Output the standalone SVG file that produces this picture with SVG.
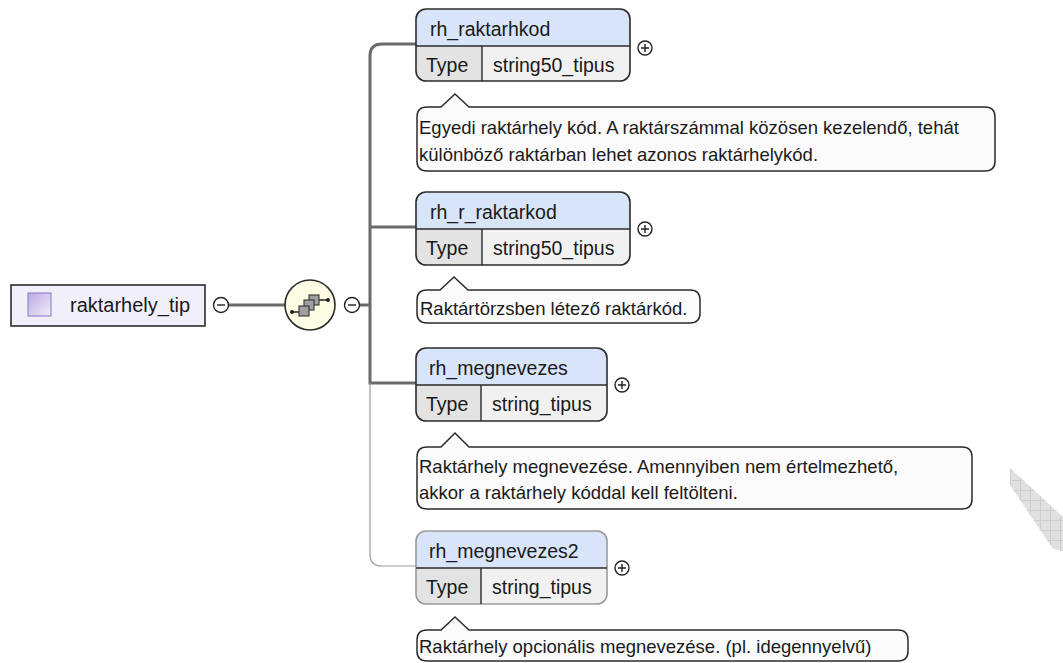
<svg xmlns="http://www.w3.org/2000/svg" width="1063" height="663" viewBox="0 0 1063 663">
<defs>
<style>
text{font-family:"Liberation Sans",Arial,sans-serif;fill:#1a1a1a}
.nm{font-size:19.5px}
.rt{font-size:20px}
.ty{font-size:19.5px}
.an{font-size:18.5px}
.box{fill:none;stroke:#2b2b2b;stroke-width:1.6}
.box.opt{stroke:#9a9a9a}
.hdr{fill:#d8e4f7}
.row{fill:#f1f1f1}
.tcell{fill:#e3e3e3}
.div{stroke:#2b2b2b;stroke-width:1.4;fill:none}
.ann{fill:#fbfbfb;stroke:#2b2b2b;stroke-width:1.5}
.pm{fill:#fff;stroke:#222;stroke-width:1.4}
.pmg{stroke:#222;stroke-width:1.4;fill:none}
.thick{fill:none;stroke:#6a6a6a;stroke-width:3}
.thin{fill:none;stroke:#9a9a9a;stroke-width:1.2}
</style>
<linearGradient id="sq" x1="0" y1="0" x2="1" y2="1">
<stop offset="0" stop-color="#b9a9e3"/>
<stop offset="1" stop-color="#f2effa"/>
</linearGradient>
<pattern id="wm" width="10" height="10" patternUnits="userSpaceOnUse">
<rect width="10" height="10" fill="#e0e0e0"/>
<path d="M0,0.5H10M0.5,0V10" stroke="#cdcdcd" stroke-width="1"/>
</pattern>
</defs>
<rect width="1063" height="663" fill="#ffffff"/>

<g id="connectors">
<path class="thick" d="M229,305 H285"/>
<path class="thick" d="M359,305 H370"/>
<path class="thick" d="M416,44 H382 Q370,44 370,56 V383 H416"/>
<path class="thick" d="M370,227 H416"/>
<path class="thin" d="M370,383 V554 Q370,566 382,566 H416"/>
</g>

<g id="root">
<rect x="11" y="285" width="194" height="41" fill="#f1eff9" stroke="#2b2b2b" stroke-width="1.6"/>
<rect x="28" y="293" width="23" height="23" fill="url(#sq)" stroke="#9886cc" stroke-width="1.2"/>
<text class="rt" x="70" y="312">raktarhely_tip</text>
<circle class="pm" cx="221" cy="305" r="7.5"/>
<path class="pmg" d="M217,305 H225"/>
</g>

<g id="sequence">
<circle cx="310" cy="305" r="25" fill="#fdfde3" stroke="#2b2b2b" stroke-width="1.6"/>
<path d="M292,312 H299 M319,300 H328" stroke="#222" stroke-width="1.4"/>
<circle cx="292" cy="312" r="2" fill="#222"/>
<circle cx="328" cy="300" r="2" fill="#222"/>
<rect x="309" y="295" width="10" height="10" fill="#a0a0a0" stroke="#333" stroke-width="1.1"/>
<rect x="304" y="300" width="10" height="10" fill="#a0a0a0" stroke="#333" stroke-width="1.1"/>
<rect x="299" y="306" width="10" height="10" fill="#a0a0a0" stroke="#333" stroke-width="1.1"/>
<circle class="pm" cx="352" cy="305" r="7.5"/>
<path class="pmg" d="M348,305 H356"/>
</g>

<g id="node-rh_raktarhkod">
<rect class="row" x="416" y="9" width="214" height="72" rx="10"/>
<path class="hdr" d="M416,46 V19 Q416,9 426,9 H620 Q630,9 630,19 V46 Z"/>
<path class="tcell" d="M416,46 H482 V81 H426 Q416,81 416,71 Z"/>
<rect class="box" x="416" y="9" width="214" height="72" rx="10"/>
<path class="div" d="M416,46 H630 M482,46 V81"/>
<text class="nm" x="430" y="36">rh_raktarhkod</text>
<text class="ty" x="426" y="72">Type</text>
<text class="ty" x="493" y="72">string50_tipus</text>
<circle class="pm" cx="645" cy="48" r="7"/>
<path class="pmg" d="M641,48 H649 M645,44 V52"/>
</g>

<g id="ann-rh_raktarhkod">
<path class="ann" d="M427,107 H441 L455,94 L469,107 H985 Q995,107 995,117 V161 Q995,171 985,171 H427 Q417,171 417,161 V117 Q417,107 427,107 Z"/>
<text class="an" x="419" y="134">Egyedi raktárhely kód. A raktárszámmal közösen kezelendő, tehát</text>
<text class="an" x="419" y="161">különböző raktárban lehet azonos raktárhelykód.</text>
</g>

<g id="node-rh_r_raktarkod">
<rect class="row" x="416" y="192" width="214" height="73" rx="10"/>
<path class="hdr" d="M416,229 V202 Q416,192 426,192 H620 Q630,192 630,202 V229 Z"/>
<path class="tcell" d="M416,229 H482 V265 H426 Q416,265 416,255 Z"/>
<rect class="box" x="416" y="192" width="214" height="73" rx="10"/>
<path class="div" d="M416,229 H630 M482,229 V265"/>
<text class="nm" x="430" y="219">rh_r_raktarkod</text>
<text class="ty" x="426" y="255">Type</text>
<text class="ty" x="493" y="255">string50_tipus</text>
<circle class="pm" cx="645" cy="229" r="7"/>
<path class="pmg" d="M641,229 H649 M645,225 V233"/>
</g>

<g id="ann-rh_r_raktarkod">
<path class="ann" d="M427,290 H440 L454,277 L468,290 H690 Q700,290 700,300 V313 Q700,323 690,323 H427 Q417,323 417,313 V300 Q417,290 427,290 Z"/>
<text class="an" x="420" y="315">Raktártörzsben létező raktárkód.</text>
</g>

<g id="node-rh_megnevezes">
<rect class="row" x="416" y="348" width="191" height="73" rx="10"/>
<path class="hdr" d="M416,385 V358 Q416,348 426,348 H597 Q607,348 607,358 V385 Z"/>
<path class="tcell" d="M416,385 H481 V421 H426 Q416,421 416,411 Z"/>
<rect class="box" x="416" y="348" width="191" height="73" rx="10"/>
<path class="div" d="M416,385 H607 M481,385 V421"/>
<text class="nm" x="429" y="375">rh_megnevezes</text>
<text class="ty" x="426" y="411">Type</text>
<text class="ty" x="492" y="411">string_tipus</text>
<circle class="pm" cx="622" cy="385" r="7"/>
<path class="pmg" d="M618,385 H626 M622,381 V389"/>
</g>

<g id="ann-rh_megnevezes">
<path class="ann" d="M427,447 H441 L455,433 L469,447 H962 Q972,447 972,457 V499 Q972,509 962,509 H427 Q417,509 417,499 V457 Q417,447 427,447 Z"/>
<text class="an" x="419" y="473">Raktárhely megnevezése. Amennyiben nem értelmezhető,</text>
<text class="an" x="419" y="499">akkor a raktárhely kóddal kell feltölteni.</text>
</g>

<g id="node-rh_megnevezes2">
<rect class="row" x="416" y="531" width="191" height="73" rx="10"/>
<path class="hdr" d="M416,568 V541 Q416,531 426,531 H597 Q607,531 607,541 V568 Z"/>
<path class="tcell" d="M416,568 H481 V604 H426 Q416,604 416,594 Z"/>
<rect class="box opt" x="416" y="531" width="191" height="73" rx="10"/>
<path class="div" d="M416,568 H607 M481,568 V604"/>
<text class="nm" x="429" y="558">rh_megnevezes2</text>
<text class="ty" x="426" y="594">Type</text>
<text class="ty" x="492" y="594">string_tipus</text>
<circle class="pm" cx="622" cy="568" r="7"/>
<path class="pmg" d="M618,568 H626 M622,564 V572"/>
</g>

<g id="ann-rh_megnevezes2">
<path class="ann" d="M427,630 H441 L455,617 L469,630 H898 Q908,630 908,640 V651 Q908,661 898,661 H427 Q417,661 417,651 V640 Q417,630 427,630 Z"/>
<text class="an" x="419" y="653">Raktárhely opcionális megnevezése. (pl. idegennyelvű)</text>
</g>

<polygon points="1010,468 1063,517 1063,551 1053,549 1010,485" fill="url(#wm)"/>
</svg>
